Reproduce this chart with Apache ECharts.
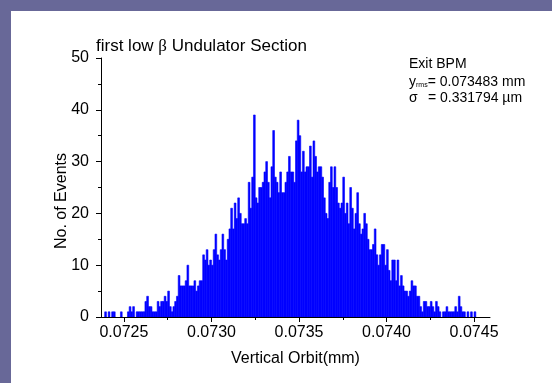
<!DOCTYPE html>
<html>
<head>
<meta charset="utf-8">
<style>
  html, body { margin: 0; padding: 0; width: 552px; height: 383px; overflow: hidden; background: #686898; }
  #chart { position: absolute; left: 11px; top: 11px; width: 541px; height: 372px; background: #ffffff; }
</style>
<script src="https://cdn.jsdelivr.net/npm/echarts@6.0.0/dist/echarts.min.js"></script>
</head>
<body>
<div id="chart"></div>
<script>
// Histogram of vertical orbit readings at the exit BPM
const binStart = 0.07238;   // mm, left edge of first bin
const binWidth = 0.00001;   // mm
const counts = [
  0,1,0,1,0,1,1,0,0,0,
  1,0,0,0,1,2,1,2,0,1,
  1,1,1,1,3,4,2,2,1,1,
  1,3,2,3,3,4,3,5,2,1,
  2,3,4,8,6,6,6,7,10,6,
  6,6,7,5,6,7,7,12,11,13,
  10,11,10,13,16,12,11,13,16,13,
  11,15,17,21,17,22,19,23,20,18,
  18,19,18,26,21,27,39,23,22,25,
  25,26,28,30,26,23,29,36,27,26,
  24,28,24,24,26,28,31,28,28,26,
  34,38,35,28,32,28,29,29,33,27,
  34,31,28,29,29,27,23,20,19,26,
  29,25,29,25,22,21,22,27,20,22,
  18,25,21,17,20,24,18,16,17,20,
  18,15,13,13,14,17,12,10,12,14,
  14,10,13,9,7,11,11,7,11,6,
  8,6,5,5,4,5,7,6,6,4,
  4,2,1,3,3,2,2,3,2,1,
  3,2,1,0,1,1,2,1,1,1,
  1,2,1,4,2,1,1,0,1,0,
  1,0,1
];
const xMajorTicks = [0.0725, 0.0730, 0.0735, 0.0740, 0.0745];
const xMinorTicks = [0.07275, 0.07325, 0.07375, 0.07425];
const xRange = [0.072369, 0.074591];
const yRange = [0, 50];
const yInterval = 10;

const titleText = 'first low ';
const titleTail = ' Undulator Section';
const xName = 'Vertical Orbit(mm)';
const yName = 'No. of Events';
const bpmName = 'Exit BPM';
const rmsText = '= 0.073483 mm';
const sigmaText = '= 0.331794 \u00b5m';

const FONT = 'Liberation Sans, Arial, Helvetica, sans-serif';
const BAR_BLUE = '#0000ff';

const bins = counts.map((c, i) => [binStart + i * binWidth, binStart + (i + 1) * binWidth, c]);

const chart = echarts.init(document.getElementById('chart'), null, { renderer: 'canvas' });

chart.setOption({
  animation: false,
  backgroundColor: '#ffffff',
  grid: { left: 90, top: 47, right: 62, bottom: 66 },
  xAxis: [
    {
      type: 'value', min: xRange[0], max: xRange[1],
      name: xName, nameLocation: 'middle', nameGap: 34,
      nameTextStyle: { fontFamily: FONT, fontSize: 16, color: '#000' },
      axisLine: { show: true, lineStyle: { color: '#000', width: 1 } },
      axisTick: { show: true, length: 5, customValues: xMajorTicks, lineStyle: { color: '#000' } },
      axisLabel: {
        customValues: xMajorTicks, margin: 8,
        fontFamily: FONT, fontSize: 16, color: '#000',
        formatter: v => v.toFixed(4)
      },
      splitLine: { show: false },
      z: 5
    },
    {
      type: 'value', min: xRange[0], max: xRange[1], position: 'bottom', offset: 0,
      axisLine: { show: false },
      axisTick: { show: true, length: 3, customValues: xMinorTicks, lineStyle: { color: '#000' } },
      axisLabel: { show: false },
      splitLine: { show: false }
    }
  ],
  yAxis: {
    type: 'value', min: yRange[0], max: yRange[1], interval: yInterval,
    axisLine: { show: true, lineStyle: { color: '#000', width: 1 } },
    axisTick: { show: true, length: 5, lineStyle: { color: '#000' } },
    minorTick: { show: true, splitNumber: 2, length: 3, lineStyle: { color: '#000' } },
    axisLabel: { margin: 12, fontFamily: FONT, fontSize: 16, color: '#000' },
    splitLine: { show: false },
    z: 5
  },
  series: [{
    type: 'custom',
    xAxisIndex: 0,
    encode: { x: [0, 1], y: 2 },
    data: bins,
    renderItem: function (params, api) {
      const c = api.value(2);
      if (!c) return null;
      const topLeft = api.coord([api.value(0), c]);
      const bottomRight = api.coord([api.value(1), 0]);
      return {
        type: 'rect',
        shape: {
          x: topLeft[0], y: topLeft[1],
          width: bottomRight[0] - topLeft[0],
          height: bottomRight[1] - topLeft[1]
        },
        style: { fill: BAR_BLUE, stroke: BAR_BLUE, lineWidth: 0.6 }
      };
    }
  }],
  graphic: [
    {
      type: 'text', left: 85, top: 27,
      style: {
        text: titleText + '{b|\u03b2}' + titleTail,
        fontFamily: FONT, fontSize: 17, fill: '#000',
        rich: { b: { fontFamily: 'Liberation Serif, Times New Roman, serif', fontSize: 17, fill: '#000' } }
      }
    },
    {
      type: 'text', x: 51, y: 190, rotation: Math.PI / 2,
      style: { text: yName, fontFamily: FONT, fontSize: 16, fill: '#000', align: 'center', verticalAlign: 'middle' }
    },
    {
      type: 'text', x: 398, y: 53,
      style: { text: bpmName, fontFamily: FONT, fontSize: 14, fill: '#000', verticalAlign: 'middle' }
    },
    {
      type: 'text', x: 398, y: 70,
      style: {
        text: '{y|y}{s|rms}{t|' + rmsText + '}',
        verticalAlign: 'middle',
        rich: {
          y: { fontFamily: FONT, fontSize: 14, fill: '#000', verticalAlign: 'bottom', lineHeight: 16 },
          s: { fontFamily: FONT, fontSize: 7, fill: '#000', verticalAlign: 'bottom', lineHeight: 10, padding: [6, 0, 0, 0] },
          t: { fontFamily: FONT, fontSize: 14, fill: '#000', verticalAlign: 'bottom', lineHeight: 16 }
        }
      }
    },
    {
      type: 'text', x: 398, y: 87,
      style: { text: '\u03c3', fontFamily: FONT, fontSize: 14, fill: '#000', verticalAlign: 'middle' }
    },
    {
      type: 'text', x: 417, y: 87,
      style: { text: sigmaText, fontFamily: FONT, fontSize: 14, fill: '#000', verticalAlign: 'middle' }
    }
  ]
});
</script>
</body>
</html>
